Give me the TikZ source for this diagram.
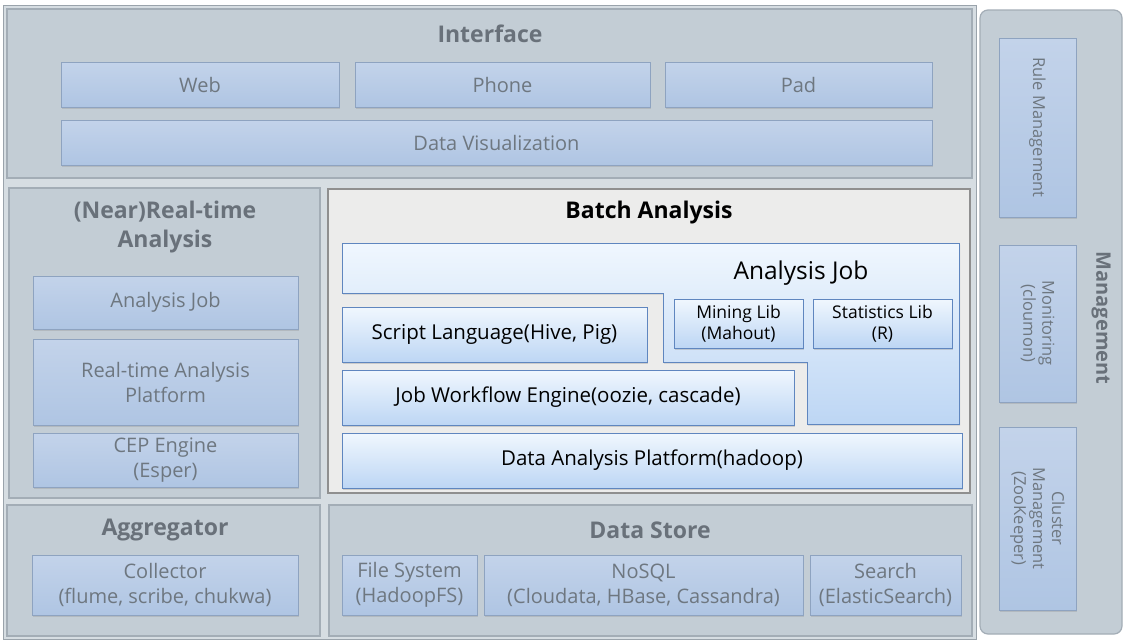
\documentclass[tikz,border=0pt]{standalone}
\usepackage{fontspec}
\setmainfont{Open Sans}
\usetikzlibrary{shadows}
\definecolor{frame}{HTML}{D6DDE2}
\definecolor{frameborder}{HTML}{9AA3AB}
\definecolor{pnlfill}{HTML}{C3CDD5}
\definecolor{pnlborder}{HTML}{A3ADB6}
\definecolor{gtop}{HTML}{C3D3EA}
\definecolor{gbot}{HTML}{AFC5E3}
\definecolor{gborder}{HTML}{8EA3C0}
\definecolor{gtext}{HTML}{6E7780}
\definecolor{ttext}{HTML}{69717A}
\definecolor{batchfill}{HTML}{ECECEB}
\definecolor{batchborder}{HTML}{8F8F8F}
\definecolor{btop}{HTML}{F0F7FE}
\definecolor{bbot}{HTML}{BDD6F4}
\definecolor{bborder}{HTML}{5F86BF}
\begin{document}
\begin{tikzpicture}[x=1pt,y=-1pt,
  panel/.style={draw=pnlborder,fill=pnlfill,line width=1.2pt},
  gbox/.style={draw=gborder,top color=gtop,bottom color=gbot,text=gtext,align=center,inner sep=0pt,outer sep=0pt,line width=0.8pt,
    font=\fontsize{20}{25}\selectfont,drop shadow={opacity=0.25,shadow xshift=1pt,shadow yshift=-1.5pt}},
  mbox/.style={gbox,rotate=-90,font=\fontsize{16.5}{19}\selectfont},
  bbox/.style={draw=bborder,top color=btop,bottom color=bbot,text=black,align=center,inner sep=0pt,outer sep=0pt,line width=0.9pt,
    font=\fontsize{20.5}{24}\selectfont,drop shadow={opacity=0.3,shadow xshift=1pt,shadow yshift=-1.5pt}},
  ttl/.style={text=ttext,font=\bfseries\fontsize{23}{27}\selectfont,align=center,inner sep=0pt}]
\useasboundingbox (0,0) rectangle (1127,641);
\fill[white] (0,0) rectangle (1127,641);
% main frame
\draw[fill=frame,draw=frameborder,line width=1pt] (3,5) rectangle (976,639);
% Interface
\draw[panel] (7,9) rectangle (972,178);
\node[ttl] (tif) at (490,34) {Interface};
\node[gbox,minimum width=278pt,minimum height=45pt] (web) at (200,84.5) {Web};
\node[gbox,minimum width=295pt,minimum height=45pt] (phone) at (502.5,84.5) {Phone};
\node[gbox,minimum width=267pt,minimum height=45pt] (pad) at (798.5,84.5) {Pad};
\node[gbox,minimum width=871pt,minimum height=45pt] (dviz) at (496.5,142.5) {Data Visualization};
% Real-time
\draw[panel] (9,188) rectangle (320,498);
\node[ttl,font=\bfseries\fontsize{23}{29}\selectfont] (trt) at (165,227) {(Near)Real-time\\Analysis};
\node[gbox,minimum width=265pt,minimum height=53pt] (rtjob) at (165.5,302.5) {Analysis Job};
\node[gbox,minimum width=265pt,minimum height=86pt] (rtap) at (165.5,382) {Real-time Analysis\\Platform};
\node[gbox,minimum width=265pt,minimum height=54pt] (cep) at (165.5,460) {CEP Engine\\(Esper)};
% Batch
\draw[fill=batchfill,draw=batchborder,line width=1.2pt] (328,189) rectangle (970,493);
\node[text=black,font=\bfseries\fontsize{23}{27}\selectfont,inner sep=0pt] (tba) at (649,213) {Batch Analysis};
\path[draw=bborder,top color=btop,bottom color=bbot,line width=0.9pt,drop shadow={opacity=0.3,shadow xshift=1pt,shadow yshift=-1.5pt}]
  (342,243) -- (959,243) -- (959,424) -- (807,424) -- (807,362) -- (663,362) -- (663,293) -- (342,293) -- cycle;
\node[text=black,font=\fontsize{24.5}{28}\selectfont,inner sep=0pt] (ajob) at (801,273) {Analysis Job};
\node[bbox,minimum width=129pt,minimum height=49pt,font=\fontsize{17.5}{21}\selectfont] (mining) at (738.5,323.5) {Mining Lib\\(Mahout)};
\node[bbox,minimum width=139pt,minimum height=49pt,font=\fontsize{17.5}{21}\selectfont] (stats) at (882.5,323.5) {Statistics Lib\\(R)};
\node[bbox,minimum width=305pt,minimum height=55pt] (script) at (494.5,334.5) {Script Language(Hive, Pig)};
\node[bbox,minimum width=452pt,minimum height=55pt] (wf) at (568,397.5) {Job Workflow Engine(oozie, cascade)};
\node[bbox,minimum width=620pt,minimum height=55pt] (dap) at (652,460.5) {Data Analysis Platform(hadoop)};
% Aggregator
\draw[panel] (7,505) rectangle (320,636);
\node[ttl] (tag) at (165,530) {Aggregator};
\node[gbox,minimum width=266pt,minimum height=60pt] (coll) at (165,585) {Collector\\(flume, scribe, chukwa)};
% Data store
\draw[panel] (329,505) rectangle (972,636);
\node[ttl] (tds) at (650,530) {Data Store};
\node[gbox,minimum width=135pt,minimum height=60pt] (fs) at (409.5,585) {File System\\(HadoopFS)};
\node[gbox,minimum width=319pt,minimum height=60pt] (nosql) at (643.5,585) {NoSQL\\(Cloudata, HBase, Cassandra)};
\node[gbox,minimum width=151pt,minimum height=60pt] (search) at (885.5,585) {Search\\(ElasticSearch)};
% Management
\draw[panel,rounded corners=8pt] (980,10) rectangle (1122,634);
\node[ttl,rotate=-90,font=\bfseries\fontsize{20}{24}\selectfont] (tmg) at (1101,318) {Management};
\node[mbox,minimum width=179pt,minimum height=77pt] (rule) at (1037.5,127.5) {Rule Management};
\node[mbox,minimum width=157pt,minimum height=77pt] (mon) at (1037.5,323.5) {Monitoring\\(cloumon)};
\node[mbox,minimum width=183pt,minimum height=77pt] (clu) at (1037.5,518.5) {Cluster\\Management\\(ZooKeeper)};
\end{tikzpicture}
\end{document}
